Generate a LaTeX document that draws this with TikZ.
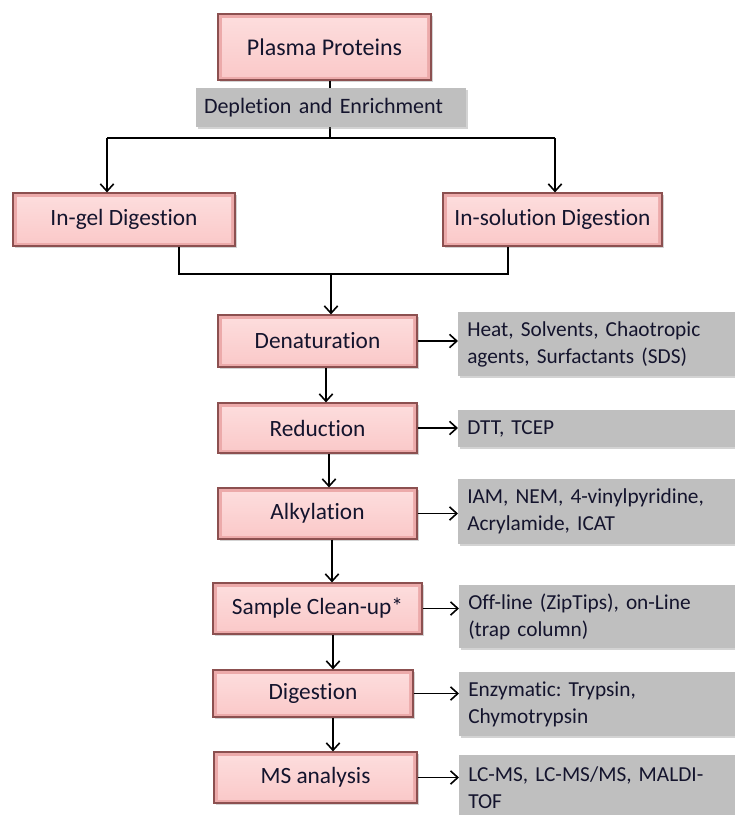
\documentclass[tikz,border=0pt]{standalone}
\usepackage{fontspec}
\setmainfont{Carlito}[Ligatures=NoCommon]
\usetikzlibrary{arrows.meta,shadows,calc}
\definecolor{pinkedge}{RGB}{236,170,170}
\definecolor{pinkin}{RGB}{253,222,222}
\definecolor{pinkin2}{RGB}{250,200,200}
\definecolor{pinkline}{RGB}{140,80,80}
\definecolor{graybox}{RGB}{191,191,191}
\definecolor{txt}{RGB}{20,20,45}
\tikzset{
  pinkbox/.style={draw=pinkline, line width=0.9pt, fill=pinkedge, inner sep=0pt,
    font=\fontsize{17.5}{20}\selectfont, text=txt,
    drop shadow={shadow xshift=1.5pt, shadow yshift=-1.5pt, opacity=0.35},
    path picture={\fill[top color=pinkin, bottom color=pinkin2]
      ([shift={(3pt,-3pt)}]path picture bounding box.north west) rectangle
      ([shift={(-3pt,3pt)}]path picture bounding box.south east);}},
  graybox/.style={fill=graybox, inner sep=0pt, text=txt, align=left,
    font=\fontsize{16}{20.25}\selectfont,
    drop shadow={shadow xshift=1.5pt, shadow yshift=-1.5pt, opacity=0.35}},
  conn/.style={line width=1.2pt, black},
  arr/.style={conn, -{Straight Barb[length=5.5pt,width=10pt,line width=1.2pt]}}
}
\begin{document}
\frenchspacing
\begin{tikzpicture}[x=0.75pt,y=-0.75pt]
\useasboundingbox (0,0) rectangle (735,815);
% nodes
\node[pinkbox, font=\fontsize{18}{21}\selectfont, minimum width=213*0.75pt, minimum height=66*0.75pt] (pp) at (324.5,47) {Plasma Proteins};
\node[pinkbox, minimum width=222*0.75pt, minimum height=53*0.75pt] (gel) at (124,219.5) {In-gel Digestion};
\node[pinkbox, minimum width=219*0.75pt, minimum height=53*0.75pt] (sol) at (552.5,219.5) {In-solution Digestion};
\node[pinkbox, minimum width=199*0.75pt, minimum height=52*0.75pt] (den) at (317.5,341) {Denaturation};
\node[pinkbox, minimum width=199*0.75pt, minimum height=50*0.75pt] (red) at (317.5,428) {Reduction};
\node[pinkbox, minimum width=199*0.75pt, minimum height=51*0.75pt] (alk) at (317.5,513.5) {Alkylation};
\node[pinkbox, minimum width=209*0.75pt, minimum height=51*0.75pt] (cln) at (317.5,608.5) {Sample Clean-up*};
\node[pinkbox, minimum width=200*0.75pt, minimum height=47*0.75pt] (dig) at (313,693.5) {Digestion};
\node[pinkbox, minimum width=203*0.75pt, minimum height=51*0.75pt] (ms) at (315.5,777.5) {MS analysis};
% gray boxes
\node[graybox, anchor=west, minimum width=282*0.75pt, minimum height=64*0.75pt, text width=264*0.75pt] (g1) at (458,344) {Heat, Solvents, Chaotropic\\agents, Surfactants (SDS)};
\node[graybox, anchor=west, minimum width=282*0.75pt, minimum height=37*0.75pt, text width=264*0.75pt] (g2) at (458,428.5) {DTT, TCEP};
\node[graybox, anchor=west, minimum width=282*0.75pt, minimum height=65*0.75pt, text width=264*0.75pt] (g3) at (458,511.5) {IAM, NEM, 4-vinylpyridine,\\Acrylamide, ICAT};
\node[graybox, anchor=west, minimum width=282*0.75pt, minimum height=63*0.75pt, text width=264*0.75pt] (g4) at (459,616.5) {Off-line (ZipTips), on-Line\\(trap column)};
\node[graybox, anchor=west, minimum width=282*0.75pt, minimum height=64*0.75pt, text width=264*0.75pt] (g5) at (459,704) {Enzymatic: Trypsin,\\Chymotrypsin};
\node[graybox, anchor=west, minimum width=282*0.75pt, minimum height=66*0.75pt, text width=264*0.75pt] (g6) at (459,788) {LC-MS, LC-MS/MS, MALDI-\\TOF};
% helper coordinates
\coordinate (splitc) at (330,138);
\coordinate (splitl) at (107,138);
\coordinate (splitr) at (555,138);
\coordinate (mergel) at (179,274);
\coordinate (merger) at (508,274);
\coordinate (mergec) at (331,274);
\coordinate (col1) at (326,0);
\coordinate (col2) at (329,0);
\coordinate (col3) at (332,0);
\coordinate (col4) at (333,0);
% top connectors
\draw[conn] (pp.south -| splitc) -- (splitc);
\draw[conn] (splitl) -- (splitr);
\draw[arr] (splitl) -- (splitl |- gel.north);
\draw[arr] (splitr) -- (splitr |- sol.north);
\node[graybox, font=\fontsize{16.5}{20}\selectfont, minimum width=270*0.75pt, minimum height=39*0.75pt, text width=254*0.75pt] (dep) at (331,107.5) {Depletion and Enrichment};
% merge
\draw[conn] (mergel |- gel.south) -- (mergel) -- (merger) -- (merger |- sol.south);
\draw[arr] (mergec) -- (mergec |- den.north);
% vertical chain
\draw[arr] (den.south -| col1) -- (red.north -| col1);
\draw[arr] (red.south -| col2) -- (alk.north -| col2);
\draw[arr] (alk.south -| col3) -- (cln.north -| col3);
\draw[arr] (cln.south -| col4) -- (dig.north -| col4);
\draw[arr] (dig.south -| col4) -- (ms.north -| col4);
% side arrows
\draw[arr] (den.east) -- (den.east -| g1.west);
\draw[arr] (red.east) -- (red.east -| g2.west);
\draw[arr] (alk.east) -- (alk.east -| g3.west);
\draw[arr] (cln.east) -- (cln.east -| g4.west);
\draw[arr] (dig.east) -- (dig.east -| g5.west);
\draw[arr] (ms.east) -- (ms.east -| g6.west);
\end{tikzpicture}
\end{document}
